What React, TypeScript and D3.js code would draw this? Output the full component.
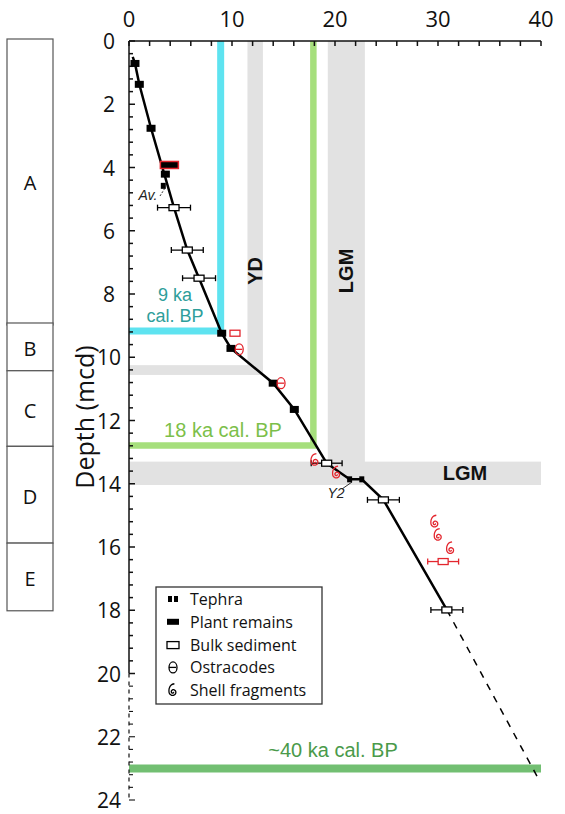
import React from "react";
import * as d3 from "d3";

// axis
const ageTicks = [0, 10, 20, 30, 40];
const depthLabels = d3.range(0, 25, 2);

// lithological units (depth of boundaries, mcd)
const units = ["A", "B", "C", "D", "E"];
const unitBounds = [0, 8.98, 10.49, 12.88, 15.94, 18.08];

// age-depth model [age ka, depth mcd]
const modelLine = [
  [0.36, 0.5], [0.58, 0.71], [1.0, 1.37], [2.14, 2.76], [4.37, 5.27], [5.66, 6.61],
  [6.8, 7.5], [9.0, 9.24], [9.9, 9.72], [14.0, 10.82], [16.05, 11.65], [19.19, 13.35],
  [21.42, 13.86], [22.6, 13.86], [24.7, 14.51], [30.86, 17.99],
];
const extrapolation = [[30.86, 17.99], [39.9, 23.42]];

// dated samples
const tephra = [[3.33, 4.58], [21.42, 13.86], [22.6, 13.86]];
const plantRemains = [
  [0.58, 0.71], [1.0, 1.37], [2.14, 2.76], [3.53, 4.21],
  [9.0, 9.24], [9.9, 9.72], [14.0, 10.82], [16.05, 11.65],
];
const plantOutlier = [[3.92, 3.92]];
const bulkAges = [4.37, 5.66, 6.8, 19.19, 24.7, 30.86];
const bulkDepths = [5.27, 6.61, 7.5, 13.35, 14.51, 17.99];
const bulkErrors = [1.6, 1.55, 1.6, 1.5, 1.55, 1.55];
const bulkOutlierAges = [10.29, 30.5];
const bulkOutlierDepths = [9.24, 16.46];
const bulkOutlierErrors = [0, 1.5];
const ostracodes = [[10.7, 9.75], [14.76, 10.82]];
const shells = [[18.06, 13.25], [20.16, 13.65], [29.7, 15.2], [30.03, 15.62], [31.23, 16.04]];

// chronological markers
const ydBand = [11.5, 13.0, 10.25, 10.56]; // ageFrom, ageTo, depthFrom, depthTo
const lgmBand = [19.3, 22.9, 13.3, 14.04];
const ka9 = [8.9, 9.17];
const ka18 = [17.9, 12.79];
const ka40Depth = 23.0;

const legendItems = ["Tephra", "Plant remains", "Bulk sediment", "Ostracodes", "Shell fragments"];

const RED = "#e3262e";
const SANS = "'Open Sans', sans-serif";
const ARIAL = "'Liberation Sans', Arial, sans-serif";

const x = d3.scaleLinear().domain([0, 40]).range([129, 541]);
const y = d3.scaleLinear().domain([0, 24]).range([41, 800]);

// "6"-like spiral for shell fragments
const spiral = (cx: number, cy: number, s: number) => {
  const pts: [number, number][] = [];
  const n = 36;
  const turns = 1.5;
  const oy = cy + s * 0.5;
  for (let i = 0; i <= n; i++) {
    const t = i / n;
    const a = t * turns * 2 * Math.PI;
    const r = 0.5 + s * t;
    pts.push([cx + r * Math.cos(a), oy + r * Math.sin(a)]);
  }
  const r = s + 0.5;
  pts.push([cx - r * 0.95, oy - r * 0.9]);
  pts.push([cx - r * 0.45, oy - r * 1.75]);
  pts.push([cx + r * 0.35, oy - r * 2.05]);
  return d3.line().curve(d3.curveCatmullRom)(pts) as string;
};

const Ostracode = ({ cx, cy, color }: { cx: number; cy: number; color: string }) => (
  <g stroke={color} strokeWidth={1.3} fill="none">
    <ellipse cx={cx} cy={cy} rx={4} ry={5.5} />
    <line x1={cx - 4} x2={cx + 3} y1={cy} y2={cy} />
  </g>
);

const Tephra = ({ cx, cy }: { cx: number; cy: number }) => (
  <rect x={cx - 2.5} y={cy - 3} width={5} height={6} fill="#000" />
);

const Plant = ({ cx, cy }: { cx: number; cy: number }) => (
  <rect x={cx - 4.5} y={cy - 3.5} width={9} height={7} fill="#000" />
);

const Bulk = ({ cx, cy, color }: { cx: number; cy: number; color: string }) => (
  <rect x={cx - 5} y={cy - 3} width={10} height={6} fill="#fff" stroke={color} strokeWidth={1.3} />
);

const ErrBar = ({ age, depth, err, color }: { age: number; depth: number; err: number; color: string }) =>
  err > 0 ? (
    <g stroke={color} strokeWidth={1.3}>
      <line x1={x(age - err)} x2={x(age + err)} y1={y(depth)} y2={y(depth)} />
      <line x1={x(age - err)} x2={x(age - err)} y1={y(depth) - 3} y2={y(depth) + 3} />
      <line x1={x(age + err)} x2={x(age + err)} y1={y(depth) - 3} y2={y(depth) + 3} />
    </g>
  ) : null;

export default function App() {
  const line = d3.line<number[]>().x(d => x(d[0])).y(d => y(d[1]));
  const x0 = x(0);
  const minorX = d3.range(0, 40.01, 2);
  const minorY = d3.range(0, 24.01, 0.4);

  const legX = 156, legY = 587, legW = 166, legH = 117;

  return (
    <svg width={565} height={814} style={{ position: "absolute", left: 0, top: 0, background: "#fff" }}>
      {/* unit column */}
      {units.map((u, i) => (
        <g key={u}>
          <rect x={7} y={y(unitBounds[i]) - 2} width={46} height={y(unitBounds[i + 1]) - y(unitBounds[i]) + (i === 0 ? 2 : 0)}
            fill="#fff" stroke="#555" strokeWidth={1.2} />
          <text x={30} y={(y(unitBounds[i]) + y(unitBounds[i + 1])) / 2} textAnchor="middle" dominantBaseline="central"
            fontFamily={SANS} fontSize={20} fill="#111">{u}</text>
        </g>
      ))}

      {/* grey bands */}
      <g fill="#e2e2e2">
        <rect x={x(ydBand[0])} y={y(0)} width={x(ydBand[1]) - x(ydBand[0])} height={y(ydBand[3]) - y(0)} />
        <rect x={x0} y={y(ydBand[2])} width={x(ydBand[1]) - x0} height={y(ydBand[3]) - y(ydBand[2])} />
        <rect x={x(lgmBand[0])} y={y(0)} width={x(lgmBand[1]) - x(lgmBand[0])} height={y(lgmBand[3]) - y(0)} />
        <rect x={x0} y={y(lgmBand[2])} width={x(40) - x0} height={y(lgmBand[3]) - y(lgmBand[2])} />
      </g>
      <text transform={`translate(${x((ydBand[0] + ydBand[1]) / 2) + 7},${y(7.27)}) rotate(-90)`} textAnchor="middle"
        fontFamily={ARIAL} fontWeight="bold" fontSize={20} fill="#111">YD</text>
      <text transform={`translate(${x((lgmBand[0] + lgmBand[1]) / 2) + 7},${y(7.27)}) rotate(-90)`} textAnchor="middle"
        fontFamily={ARIAL} fontWeight="bold" fontSize={20} fill="#111">LGM</text>
      <text x={465} y={(y(lgmBand[2]) + y(lgmBand[3])) / 2} textAnchor="middle" dominantBaseline="central"
        fontFamily={ARIAL} fontWeight="bold" fontSize={20} fill="#111">LGM</text>

      {/* reference ages */}
      <path d={`M${x(ka9[0])},${y(0)}V${y(ka9[1])}H${x0}`} fill="none" stroke="#5ee3f0" strokeWidth={7} />
      <text x={175} y={301} textAnchor="middle" fontFamily={ARIAL} fontSize={18} fill="#2e9e9a">9 ka</text>
      <text x={175} y={322} textAnchor="middle" fontFamily={ARIAL} fontSize={18} fill="#2e9e9a">cal. BP</text>
      <path d={`M${x(ka18[0])},${y(0)}V${y(ka18[1])}H${x0}`} fill="none" stroke="#a6df7c" strokeWidth={6.5} />
      <text x={223} y={y(ka18[1]) - 8} textAnchor="middle" fontFamily={ARIAL} fontSize={20} fill="#7cbf4a">18 ka cal. BP</text>
      <line x1={x0} x2={x(40)} y1={y(ka40Depth)} y2={y(ka40Depth)} stroke="#72bf72" strokeWidth={8} />
      <text x={333} y={y(ka40Depth) - 11} textAnchor="middle" fontFamily={ARIAL} fontSize={20} fill="#4a9a4a">~40 ka cal. BP</text>

      {/* axes */}
      <g stroke="#111" strokeWidth={1.5} fill="none">
        <line x1={x0} x2={x(40)} y1={y(0)} y2={y(0)} />
        {minorX.map(t => <line key={t} x1={x(t)} x2={x(t)} y1={y(0)} y2={y(0) + 5} />)}
        <line x1={x0} x2={x0} y1={y(0)} y2={y(20)} />
        <line x1={x0} x2={x0} y1={y(20)} y2={y(24)} strokeDasharray="4,4" strokeWidth={1.2} />
        {minorY.map(t => (
          <line key={t} x1={x0} x2={x0 + (Math.abs(t / 2 - Math.round(t / 2)) < 0.01 ? 6 : 4)} y1={y(t)} y2={y(t)}
            strokeWidth={t > 20 ? 1.1 : 1.5} />
        ))}
      </g>
      {ageTicks.map(t => (
        <text key={t} x={x(t)} y={27} textAnchor="middle" fontFamily={SANS} fontSize={22} fill="#111">{t}</text>
      ))}
      {depthLabels.map(t => (
        <text key={t} x={109} y={y(t)} textAnchor="middle" dominantBaseline="central" fontFamily={SANS} fontSize={21} fill="#111">{t}</text>
      ))}
      <text transform={`translate(${84},${417}) rotate(-90)`} textAnchor="middle" dominantBaseline="central"
        fontFamily={SANS} fontSize={25} fill="#111">Depth (mcd)</text>

      {/* age-depth model */}
      <path d={line(modelLine) as string} fill="none" stroke="#000" strokeWidth={2.5} />
      <path d={line(extrapolation) as string} fill="none" stroke="#000" strokeWidth={1.5} strokeDasharray="7,7" />

      {/* error bars and samples */}
      {bulkAges.map((a, i) => <ErrBar key={"e" + i} age={a} depth={bulkDepths[i]} err={bulkErrors[i]} color="#000" />)}
      {bulkOutlierAges.map((a, i) => <ErrBar key={"er" + i} age={a} depth={bulkOutlierDepths[i]} err={bulkOutlierErrors[i]} color={RED} />)}
      {bulkAges.map((a, i) => <Bulk key={"b" + i} cx={x(a)} cy={y(bulkDepths[i])} color="#000" />)}
      {bulkOutlierAges.map((a, i) => <Bulk key={"br" + i} cx={x(a)} cy={y(bulkOutlierDepths[i])} color={RED} />)}
      {plantRemains.map((d, i) => <Plant key={"p" + i} cx={x(d[0])} cy={y(d[1])} />)}
      {plantOutlier.map((d, i) => (
        <rect key={"po" + i} x={x(d[0]) - 9} y={y(d[1]) - 3.5} width={18} height={7} fill="#000" stroke={RED} strokeWidth={1.5} />
      ))}
      {tephra.map((d, i) => <Tephra key={"t" + i} cx={x(d[0])} cy={y(d[1])} />)}
      {ostracodes.map((d, i) => <Ostracode key={"o" + i} cx={x(d[0])} cy={y(d[1])} color={RED} />)}
      {shells.map((d, i) => (
        <path key={"s" + i} d={spiral(x(d[0]), y(d[1]), 3.5)} fill="none" stroke={RED} strokeWidth={1.3} />
      ))}

      {/* tephra labels */}
      <line x1={160} y1={196} x2={165} y2={188} stroke="#000" strokeWidth={0.8} strokeDasharray="2,1.5" />
      <text x={148} y={200} textAnchor="middle" fontFamily={ARIAL} fontStyle="italic" fontSize={14} fill="#222">Av.</text>
      <line x1={342} y1={489} x2={352} y2={482} stroke="#000" strokeWidth={0.8} />
      <text x={336} y={498} textAnchor="middle" fontFamily={ARIAL} fontStyle="italic" fontSize={14} fill="#222">Y2</text>

      {/* legend */}
      <rect x={legX} y={legY} width={legW} height={legH} fill="#fff" stroke="#333" strokeWidth={1.3} />
      {legendItems.map((label, i) => {
        const cy = legY + 12 + i * 22.8;
        const cx = legX + 17;
        return (
          <g key={label}>
            {i === 0 && (
              <g fill="#000">
                <rect x={cx - 5} y={cy - 3} width={4} height={6} />
                <rect x={cx + 1} y={cy - 3} width={4} height={6} />
              </g>
            )}
            {i === 1 && <rect x={cx - 6} y={cy - 3} width={12} height={6} fill="#000" />}
            {i === 2 && <rect x={cx - 6} y={cy - 3} width={12} height={7} fill="#fff" stroke="#000" strokeWidth={1.3} />}
            {i === 3 && <Ostracode cx={cx} cy={cy} color="#000" />}
            {i === 4 && <path d={spiral(cx, cy, 3.5)} fill="none" stroke="#000" strokeWidth={1.3} />}
            <text x={legX + 34} y={cy} dominantBaseline="central" fontFamily={SANS} fontSize={16} fill="#111">{label}</text>
          </g>
        );
      })}
    </svg>
  );
}
